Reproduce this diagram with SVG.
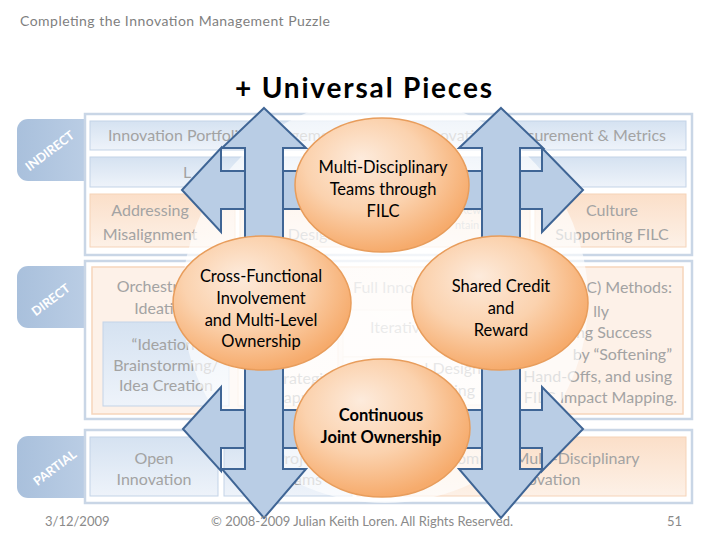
<svg xmlns="http://www.w3.org/2000/svg" width="728" height="546" viewBox="0 0 728 546">
<defs>
<style>
.bt{font-family:Lato,"Liberation Sans",sans-serif;font-size:16px;fill:#a3a3a3}
.sm{font-family:Lato,"Liberation Sans",sans-serif;font-size:11px;fill:#b5b5b5}
.ct{font-family:Lato,"Liberation Sans",sans-serif;font-size:16.5px;fill:#000;text-anchor:middle}
.tab{font-family:Lato,"Liberation Sans",sans-serif;font-weight:bold;font-size:12.5px;fill:#fff;text-anchor:middle}
.ft{font-family:Lato,"Liberation Sans",sans-serif;font-size:13px;fill:#8a8a8a}
.cont{fill:#fff;stroke:#c9d6e6;stroke-width:2.5}
.bb{fill:url(#gb);stroke:#c3d3e7;stroke-width:1}
.ob{fill:url(#go);stroke:#f5d3b8;stroke-width:1}
.tabr{fill:url(#gt)}
.arr{fill:#b9cde5;stroke:#3f6595;stroke-width:2;stroke-linejoin:miter}
.el{fill:url(#ge);stroke:#e89d5c;stroke-width:1.5}
</style>
<linearGradient id="gb" x1="0" y1="0" x2="0" y2="1"><stop offset="0" stop-color="#d5e2f1"/><stop offset="1" stop-color="#eef3fa"/></linearGradient>
<linearGradient id="go" x1="0" y1="0" x2="0" y2="1"><stop offset="0" stop-color="#fbdfc9"/><stop offset="1" stop-color="#fdf1e7"/></linearGradient>
<linearGradient id="gt" x1="0" y1="0" x2="1" y2="0"><stop offset="0" stop-color="#a9c0dc"/><stop offset="1" stop-color="#bfd1e7"/></linearGradient>
<radialGradient id="ge" cx="0.42" cy="0.38" r="0.62" fx="0.38" fy="0.3"><stop offset="0" stop-color="#fdebdc"/><stop offset="0.55" stop-color="#fbd2ae"/><stop offset="1" stop-color="#f6ab6c"/></radialGradient>
<radialGradient id="gw" cx="0.5" cy="0.5" r="0.5"><stop offset="0" stop-color="#fff" stop-opacity="0.8"/><stop offset="1" stop-color="#fff" stop-opacity="0.65"/></radialGradient>
</defs>
<rect width="728" height="546" fill="#fff"/>
<text x="20" y="26" class="ft" style="font-size:14px;fill:#7f7f7f" textLength="310">Completing the Innovation Management Puzzle</text>
<text x="235" y="98" style="font-family:Lato,'Liberation Sans',sans-serif;font-weight:bold;font-size:28px;fill:#000" textLength="257">+ Universal Pieces</text>

<g id="band-indirect">
<rect x="17" y="119" width="90" height="62" rx="11" class="tabr"/>
<rect x="85" y="114" width="607" height="141" class="cont"/>
<text class="tab" transform="translate(50,151) rotate(-37)" dy="4">INDIRECT</text>
<rect x="90" y="121" width="596" height="29" class="bb"/>
<text x="108" y="141" class="bt">Innovation Portfolio Management</text>
<text x="666" y="141" class="bt" text-anchor="end">Innovation Measurement &amp; Metrics</text>
<rect x="90" y="157" width="596" height="30" class="bb"/>
<text x="183" y="178" class="bt">L</text>
<text x="546" y="178" class="bt">es</text>
<rect x="90" y="194" width="145" height="53" class="ob"/>
<text x="150" y="216" class="bt" text-anchor="middle">Addressing</text>
<text x="150" y="240" class="bt" text-anchor="middle">Misalignment</text>
<rect x="240" y="194" width="145" height="53" class="ob"/>
<text x="312" y="240" class="bt" text-anchor="middle">Design</text>
<rect x="390" y="194" width="140" height="53" class="ob"/>
<text x="460" y="214" class="sm">Rew</text>
<text x="455" y="229" class="sm">ntain</text>
<rect x="535" y="194" width="151" height="53" class="ob"/>
<text x="612" y="216" class="bt" text-anchor="middle">Culture</text>
<text x="612" y="240" class="bt" text-anchor="middle">Supporting FILC</text>
</g>

<g id="band-direct">
<rect x="17" y="266" width="90" height="62" rx="11" class="tabr"/>
<rect x="85" y="261" width="607" height="158" class="cont"/>
<text class="tab" transform="translate(51,300) rotate(-37)" dy="4">DIRECT</text>
<rect x="92" y="267" width="591" height="147" fill="#fdf1e8" stroke="#f6d5bb" stroke-width="1.5"/>
<text x="163" y="292" class="bt" text-anchor="middle">Orchestrated</text>
<text x="163" y="314" class="bt" text-anchor="middle">Ideation</text>
<rect x="103" y="322" width="126" height="84" class="bb"/>
<text x="166" y="350" class="bt" text-anchor="middle">“Ideation”</text>
<text x="166" y="371" class="bt" text-anchor="middle">Brainstorming/</text>
<text x="166" y="391" class="bt" text-anchor="middle">Idea Creation</text>
<rect x="238" y="322" width="100" height="84" fill="#fef6f0" stroke="#f6dcc6"/>
<text x="300" y="384" class="bt" text-anchor="middle">Strategic</text>
<text x="300" y="403" class="bt" text-anchor="middle">Mapping</text>
<text x="353" y="293" class="bt">Full Inno</text>
<text x="672" y="293" class="bt" text-anchor="end">C) Methods:</text>
<rect x="343" y="310" width="170" height="47" fill="#fef8f3" stroke="#f3e3d6"/>
<text x="370" y="333" class="bt">Iterative</text>
<rect x="343" y="357" width="170" height="48" fill="#fef8f3" stroke="#f3e3d6"/>
<text x="481" y="374" class="bt" text-anchor="end">Industrial Design</text>
<text x="475" y="396" class="bt" text-anchor="end">Engineering</text>
<text x="609" y="317" class="bt" text-anchor="end">lly</text>
<text x="652" y="338" class="bt" text-anchor="end">Increasing Success</text>
<text x="672" y="360" class="bt" text-anchor="end">by “Softening”</text>
<text x="672" y="382" class="bt" text-anchor="end">Hand-Offs, and using</text>
<text x="677" y="403" class="bt" text-anchor="end">FILC Impact Mapping.</text>
</g>

<g id="band-partial">
<rect x="17" y="436" width="90" height="62" rx="11" class="tabr"/>
<rect x="85" y="430" width="607" height="73" class="cont"/>
<text class="tab" transform="translate(55,468) rotate(-37)" dy="4">PARTIAL</text>
<rect x="90" y="437" width="128" height="59" class="bb"/>
<text x="154" y="464" class="bt" text-anchor="middle">Open</text>
<text x="154" y="485" class="bt" text-anchor="middle">Innovation</text>
<rect x="224" y="437" width="128" height="59" class="bb"/>
<text x="300" y="464" class="bt" text-anchor="middle">Project</text>
<text x="300" y="485" class="bt" text-anchor="middle">Teams</text>
<rect x="357" y="437" width="329" height="59" class="ob"/>
<text x="543" y="464" class="bt" text-anchor="middle">Common Multi-Disciplinary</text>
<text x="543" y="485" class="bt" text-anchor="middle">Innovation</text>
</g>

<circle cx="385" cy="300" r="203" fill="url(#gw)"/>

<g id="connectors">
<path class="arr" d="M182,190 L221,148 L221,171 L542,171 L542,148 L583,190 L542,232 L542,209 L221,209 L221,232 Z"/>
<path class="arr" d="M183,429 L221,387 L221,410 L542,410 L542,387 L583,429 L542,471 L542,448 L221,448 L221,471 Z"/>
<path class="arr" d="M264,108 L306,148 L283,148 L283,469 L306,469 L264,518 L222,469 L245,469 L245,148 L222,148 Z"/>
<path class="arr" d="M501,108 L543,148 L520,148 L520,469 L543,469 L501,518 L459,469 L482,469 L482,148 L459,148 Z"/>
</g>

<g id="node-multi">
<ellipse cx="382" cy="185" rx="87" ry="67" class="el"/>
<text x="383" y="173" class="ct">Multi-Disciplinary</text>
<text x="383" y="195" class="ct">Teams through</text>
<text x="383" y="217" class="ct">FILC</text>
</g>
<g id="node-cross">
<ellipse cx="262" cy="303" rx="89" ry="67" class="el"/>
<text x="261" y="282" class="ct">Cross-Functional</text>
<text x="261" y="304" class="ct">Involvement</text>
<text x="261" y="326" class="ct">and Multi-Level</text>
<text x="261" y="347" class="ct">Ownership</text>
</g>
<g id="node-shared">
<ellipse cx="500" cy="303" rx="88" ry="67" class="el"/>
<text x="501" y="292" class="ct">Shared Credit</text>
<text x="501" y="314" class="ct">and</text>
<text x="501" y="336" class="ct">Reward</text>
</g>
<g id="node-continuous">
<ellipse cx="382" cy="428" rx="88" ry="69" class="el"/>
<text x="381" y="421" class="ct" font-weight="bold">Continuous</text>
<text x="381" y="443" class="ct" font-weight="bold">Joint Ownership</text>
</g>

<text x="45" y="526" class="ft">3/12/2009</text>
<text x="362" y="526" class="ft" text-anchor="middle">© 2008-2009 Julian Keith Loren. All Rights Reserved.</text>
<text x="682" y="526" class="ft" text-anchor="end">51</text>
</svg>
